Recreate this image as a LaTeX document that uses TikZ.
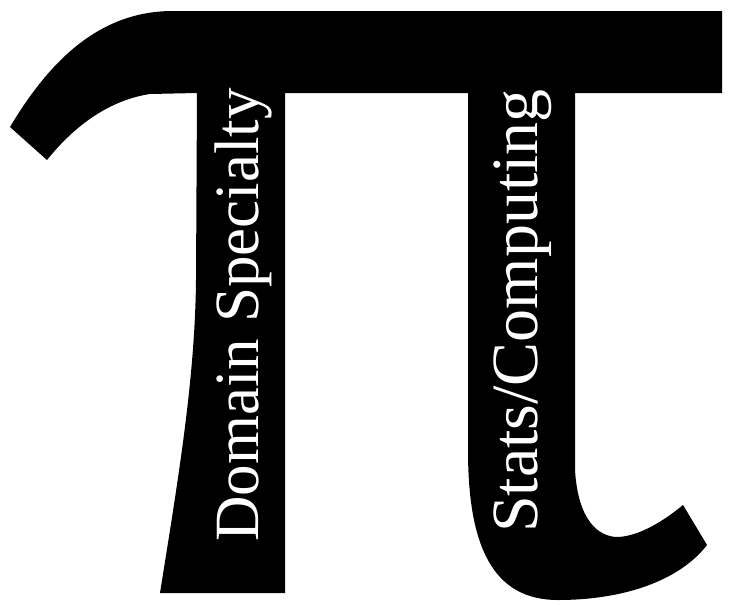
\documentclass[tikz,border=0pt]{standalone}
\usepackage{fontspec}
\setmainfont{Liberation Serif}
\usepackage{tikz}

\begin{document}
\begin{tikzpicture}[
    x=1pt,y=-1pt,
    glyph/.style={fill=black, draw=none},
    legtext/.style={text=white, rotate=90, anchor=base, inner sep=0pt}
  ]
    \useasboundingbox (0,0) rectangle (731,605);

    \path[glyph] (173,11) -- (722,11) -- (722,93) -- (575,93) -- (575,470)
      .. controls (578,520) and (598,537) .. (618,537)
      .. controls (640,536) and (665,520) .. (683,505) -- (707,545)
      .. controls (680,580) and (625,600) .. (558,600)
      .. controls (492,600) and (468,545) .. (468,450) -- (468,93)
      -- (285,93) -- (285,593) -- (160,593)
      .. controls (178,480) and (195,380) .. (196,280) -- (197,93)
      -- (150,94) .. controls (110,100) and (75,125) .. (47,160) -- (10,127)
      .. controls (50,60) and (100,11) .. (173,11) -- cycle;

    \node[legtext, font=\fontsize{63}{63}\selectfont] (domain) at (258,315) {Domain Specialty};
    \node[legtext, font=\fontsize{66}{66}\selectfont] (stats) at (537,311) {Stats/Computing};
\end{tikzpicture}
\end{document}
